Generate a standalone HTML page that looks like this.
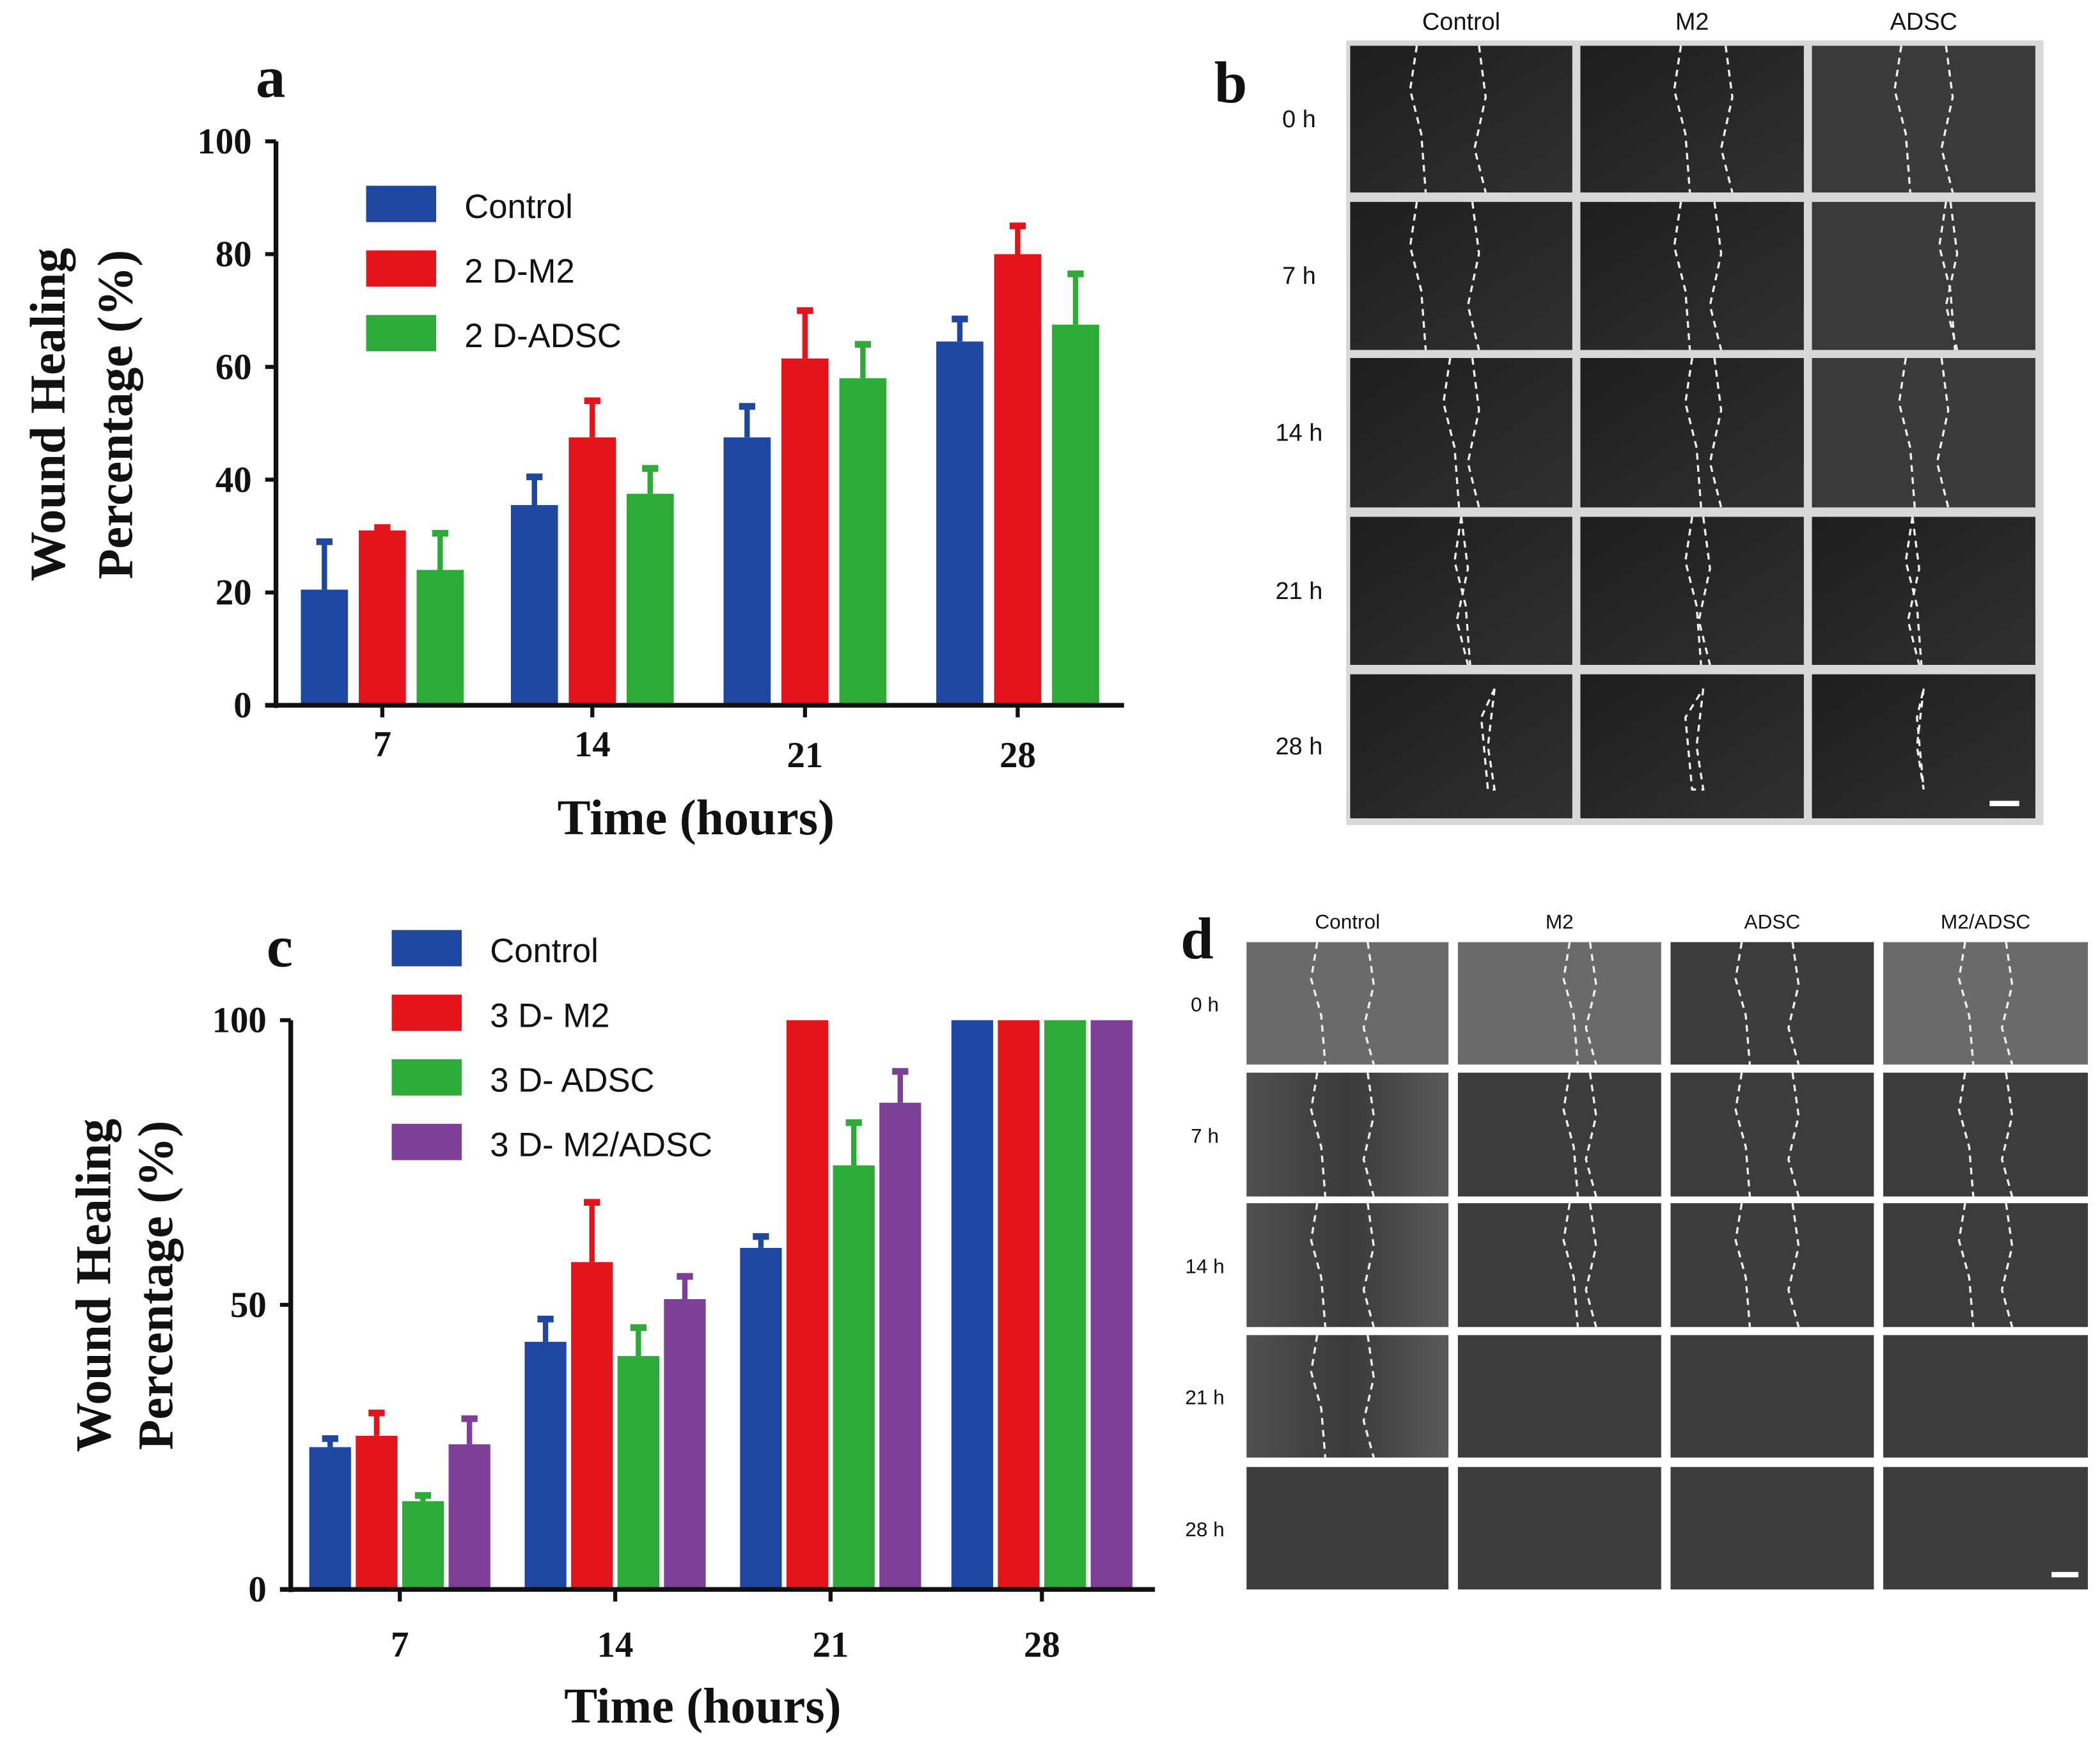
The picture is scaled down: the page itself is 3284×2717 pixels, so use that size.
<!DOCTYPE html>
<html><head><meta charset="utf-8"><style>
html,body{margin:0;padding:0;background:#fff}
svg{display:block}
.tk{font-family:"Liberation Serif",serif;font-weight:bold;font-size:27px;fill:#111}
.ttl{font-family:"Liberation Serif",serif;font-weight:bold;font-size:37px;fill:#111}
.lg{font-family:"Liberation Sans",sans-serif;font-size:25px;fill:#111}
.ph{font-family:"Liberation Sans",sans-serif;font-size:18px;fill:#111}
.phs{font-family:"Liberation Sans",sans-serif;font-size:15px;fill:#111}
.let{font-family:"Liberation Serif",serif;font-weight:bold;font-size:44px;fill:#111}
</style></head><body>
<svg id="fig" width="3284" height="2717" viewBox="0 0 1560 1290.6" xmlns="http://www.w3.org/2000/svg">
<defs>
<linearGradient id="gb" x1="0" y1="0" x2="1" y2="1"><stop offset="0" stop-color="#1e1e1e"/><stop offset="1" stop-color="#303030"/></linearGradient>
<linearGradient id="gd" x1="0" y1="0" x2="1" y2="0"><stop offset="0" stop-color="#505050"/><stop offset="0.5" stop-color="#3a3a3a"/><stop offset="1" stop-color="#5a5a5a"/></linearGradient>
</defs>
<g id="chartA"></g>
<g id="chartC"></g>
<g id="panelB"></g>
<g id="panelD"></g>
</svg>
<script>
const NS="http://www.w3.org/2000/svg";
function mk(parent,tag,attrs,text){const e=document.createElementNS(NS,tag);for(const k in attrs)e.setAttribute(k,attrs[k]);if(text!==undefined)e.textContent=text;parent.appendChild(e);return e;}

// ---- Chart a data ----
const catsA=["7","14","21","28"];
const seriesNamesA=["Control","2 D-M2","2 D-ADSC"];
const ctrlA=[20.5,35.5,47.5,64.5];
const ctrlErrA=[29,40.5,53,68.5];
const m2A=[31,47.5,61.5,80];
const m2ErrA=[31.5,54,70,85];
const adscA=[24,37.5,58,67.5];
const adscErrA=[30.5,42,64,76.5];
const ticksA=[0,20,40,60,80,100];

// ---- Chart c data ----
const catsC=["7","14","21","28"];
const seriesNamesC=["Control","3 D- M2","3 D- ADSC","3 D- M2/ADSC"];
const ctrlC=[25,43.5,60,100];
const ctrlErrC=[26.5,47.5,62,100];
const m2C=[27,57.5,100,100];
const m2ErrC=[31,68,100,100];
const adscC=[15.5,41,74.5,100];
const adscErrC=[16.5,46,82,100];
const mixC=[25.5,51,85.5,100];
const mixErrC=[30,55,91,100];
const ticksC=[0,50,100];

const COLORS=["#1f47a0","#e3141c","#2eaa38","#7d3f98"];

function drawChart(g,cfg){
  const {x0,x1,yTop,yBot,centers,bw,pitch,series,errs,ticks,cats,max,names,leg,title,tickY,titleX,titleY,ylx}=cfg;
  const ys=v=>yBot-(v/max)*(yBot-yTop);
  const xs=(i,s)=>centers[i]+(s-(series.length-1)/2)*pitch;
  series.forEach((arr,s)=>{
    arr.forEach((v,i)=>{
      const cx=xs(i,s);
      if(errs[s][i]>v){
        const er=mk(g,'line',{x1:cx,x2:cx,y1:ys(v),y2:ys(errs[s][i]),stroke:COLORS[s],'stroke-width':4});
        
        
        const cap=mk(g,'line',{x1:cx-6,x2:cx+6,y1:ys(errs[s][i]),y2:ys(errs[s][i]),stroke:COLORS[s],'stroke-width':5});
        
        
      }
      const r=mk(g,'rect',{x:cx-bw/2,y:ys(v),width:bw,height:yBot-ys(v),fill:COLORS[s]});
      
      
    });
  });
  const ya=mk(g,'line',{x1:x0,x2:x0,y1:yTop,y2:yBot+2,stroke:'#111','stroke-width':3.5});
  
  
  const xa=mk(g,'line',{x1:x0-8,x2:x1,y1:yBot,y2:yBot,stroke:'#111','stroke-width':3.5});
  
  
  ticks.forEach(t=>{
    mk(g,'line',{x1:x0-8,x2:x0,y1:ys(t),y2:ys(t),stroke:'#111','stroke-width':3});
    const tl=mk(g,'text',{x:x0-18,y:ys(t)+9,'text-anchor':'end',class:'tk'},String(t));
    
    
  });
  cats.forEach((c,i)=>{
    mk(g,'line',{x1:centers[i],x2:centers[i],y1:yBot,y2:yBot+9,stroke:'#111','stroke-width':3});
    const tl=mk(g,'text',{x:centers[i],y:tickY[i],'text-anchor':'middle',class:'tk'},c);
    
    
  });
  const xt=mk(g,'text',{x:titleX,y:titleY,'text-anchor':'middle',class:'ttl'},'Time (hours)');
  
  
  const yt=mk(g,'text',{transform:`translate(${ylx[0]},${ylx[2]}) rotate(-90)`,'text-anchor':'middle',class:'ttl'},'Wound Healing');
  
  
  const yt2=mk(g,'text',{transform:`translate(${ylx[1]},${ylx[2]}) rotate(-90)`,'text-anchor':'middle',class:'ttl'},'Percentage (%)');
  
  
  names.forEach((n,s)=>{
    const sw=mk(g,'rect',{x:leg.x,y:leg.y+s*leg.dy,width:52,height:27,fill:COLORS[s]});
    
    
    const lt=mk(g,'text',{x:leg.x+73,y:leg.y+s*leg.dy+24,class:'lg'},n);
    
    
  });
}

drawChart(document.getElementById('chartA'),{
  x0:205,x1:835,yTop:105,yBot:524,centers:[284,440,598,756],bw:35,pitch:43,
  series:[ctrlA,m2A,adscA],errs:[ctrlErrA,m2ErrA,adscErrA],ticks:ticksA,cats:catsA,max:100,
  names:seriesNamesA,leg:{x:272,y:138,dy:48},tickY:[562,562,570,570],titleX:517,titleY:620,ylx:[48,98,308]
});
drawChart(document.getElementById('chartC'),{
  x0:216,x1:858,yTop:758,yBot:1181,centers:[297,457,617,774],bw:31,pitch:34.5,
  series:[ctrlC,m2C,adscC,mixC],errs:[ctrlErrC,m2ErrC,adscErrC,mixErrC],ticks:ticksC,cats:catsC,max:100,
  names:seriesNamesC,leg:{x:291,y:691,dy:48},tickY:[1231,1231,1231,1231],titleX:522,titleY:1280,ylx:[82,128,955]
});

// panel letters
[['a',190,72],['b',902,76],['c',198,718],['d',877,712]].forEach(p=>{
  const t=mk(document.getElementById('fig'),'text',{x:p[1],y:p[2],class:'let'},p[0]);
  
  
});

// image grids
function grid(gid,cols,rows,colNames,rowNames,hdrY,rowLabX,fill,cls,bg,lines){
  const g=document.getElementById(gid);
  if(bg){mk(g,'rect',{x:bg[0],y:bg[1],width:bg[2],height:bg[3],fill:'#d8d8d8'});}
  colNames.forEach((n,i)=>{
    const t=mk(g,'text',{x:(cols[i][0]+cols[i][1])/2,y:hdrY,'text-anchor':'middle',class:cls},n);
    
    
  });
  rows.forEach((r,j)=>{
    const t=mk(g,'text',{x:rowLabX,y:(r[0]+r[1])/2+6,'text-anchor':'middle',class:cls},rowNames[j]);
    
    
    cols.forEach((c,i)=>{
      const w=c[1]-c[0],h=r[1]-r[0];
      const im=mk(g,'rect',{x:c[0],y:r[0],width:w,height:h,fill:fill(i,j)});
      
      
      const L=lines(i,j);
      L.forEach(pts=>{
        const d=pts.map((p,k)=>(k?'L':'M')+(c[0]+p[0]*w)+','+(r[0]+p[1]*h)).join(' ');
        mk(g,'path',{d:d,fill:'none',stroke:'#eee','stroke-width':1.6,'stroke-dasharray':'5 4'});
      });
    });
  });
}
const wave=(a,b)=>[[[a,0],[a-0.03,0.3],[a+0.02,0.6],[a+0.04,1]],[[b,0],[b+0.03,0.35],[b-0.02,0.7],[b+0.03,1]]];
grid('panelB',[[1003,1168],[1174,1340],[1346,1512]],[[34,143],[150,260],[266,377],[384,494],[501,608]],
  ['Control','M2','ADSC'],['0 h','7 h','14 h','21 h','28 h'],22,965,
  (i,j)=>(i==2&&j<3)?'#3a3a3a':'url(#gb)','ph',[1000,30,518,583],
  (i,j)=>{const b=[[[0.3,0.58],[0.3,0.55],[0.45,0.55],[0.5,0.5],[0.65,0.62]],[[0.45,0.65],[0.45,0.6],[0.5,0.6],[0.5,0.55],[0.55,0.5]],[[0.4,0.6],[0.6,0.62],[0.42,0.58],[0.45,0.45],[0.5,0.5]]];
    const p=b[i][j];return j==4?[[[p[0],0.1],[p[0]-0.03,0.5],[p[0],0.8],[p[1],0.8],[p[1]-0.03,0.3],[p[0],0.1]]]:wave(p[0],p[1]);});
const sb=mk(document.getElementById('panelB'),'rect',{x:1478,y:595,width:22,height:4,fill:'#fff'});

grid('panelD',[[926,1076],[1083,1234],[1241,1392],[1399,1551]],[[700,791],[797,889],[894,986],[992,1083],[1090,1181]],
  ['Control','M2','ADSC','M2/ADSC'],['0 h','7 h','14 h','21 h','28 h'],690,895,
  (i,j)=>(j==0&&i!=2)?'#6a6a6a':(i==0&&j<4?'url(#gd)':'#3c3c3c'),'phs',null,
  (i,j)=>{if(j>=3&&i>0)return [];if(j==4)return [];const a=[[0.35,0.6],[0.55,0.65],[0.35,0.6],[0.4,0.6]][i];return wave(a[0],a[1]);});
const sb2=mk(document.getElementById('panelD'),'rect',{x:1524,y:1168,width:20,height:4,fill:'#fff'});

</script>
</body></html>
